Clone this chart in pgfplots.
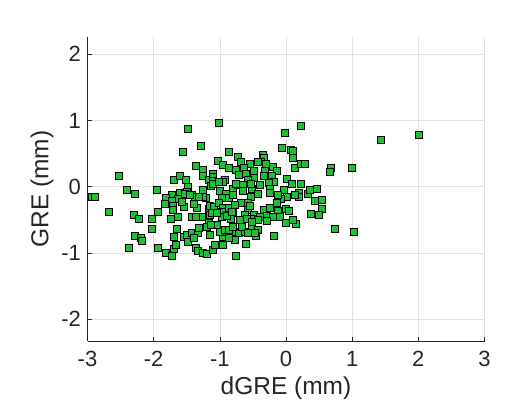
\documentclass[border=0pt]{standalone}
\usepackage{pgfplots}
\pgfplotsset{compat=1.18}
\usepackage{pgfplotstable}
\usepackage{fontspec}
\setmainfont{Liberation Sans}
\definecolor{mgreen}{RGB}{32,190,52}
\definecolor{axgray}{RGB}{38,38,38}
\definecolor{gridgray}{RGB}{225,225,225}
\pgfplotstableread{
x y
-2.94 -0.16
-2.89 -0.16
-2.67 -0.38
-2.53 0.16
-2.41 -0.05
-2.29 -0.11
-2.38 -0.92
-2.30 -0.42
-2.22 -0.49
-2.28 -0.74
-2.20 -0.77
-2.18 -0.82
-2.02 -0.49
-2.02 -0.64
-1.93 -0.38
-1.95 -0.05
-1.93 -0.92
-1.49 0.88
-1.28 0.61
-1.56 0.52
-1.02 0.97
-0.01 0.82
0.23 0.92
1.44 0.70
2.01 0.78
0.68 0.28
0.67 0.23
0.99 0.29
0.74 -0.64
1.02 -0.68
-0.86 0.53
-0.73 0.45
-0.68 0.38
-1.03 0.39
-0.96 0.33
-0.35 0.48
-0.34 0.44
-0.38 0.38
-0.30 0.34
-0.43 0.38
-0.06 0.58
0.08 0.55
0.11 0.54
0.11 0.43
0.14 0.29
0.23 0.35
0.28 0.35
-0.54 0.35
-0.63 0.29
-0.76 0.25
-0.86 0.29
-0.72 0.18
-0.60 0.19
-0.48 0.14
-0.48 0.24
-0.32 0.24
-0.20 0.30
-0.14 0.24
-0.22 0.16
-0.33 0.17
-1.37 0.31
-1.26 0.25
-1.25 0.17
-1.17 0.11
-1.11 0.20
-1.11 0.15
-1.10 0.09
-0.92 0.11
-0.95 0.08
-1.70 0.10
-1.60 0.16
-1.51 0.10
-1.48 -0.01
-1.14 0.02
-0.57 0.10
0.01 0.12
0.09 0.04
0.22 0.05
-0.19 0.07
-0.26 0.06
-0.03 -0.05
0.02 -0.15
-0.08 -0.18
-0.24 -0.04
-0.25 -0.10
0.20 -0.09
0.20 -0.15
0.33 -0.11
0.13 -0.13
0.36 -0.05
0.46 -0.03
0.43 -0.22
0.54 -0.20
0.54 -0.34
0.50 -0.42
0.37 -0.41
-1.25 -0.05
-1.21 -0.17
-1.00 -0.06
-0.91 -0.11
-0.81 -0.03
-0.73 0.03
-0.65 0.03
-0.65 -0.06
-0.52 -0.04
-0.40 0.03
-0.42 -0.11
-0.53 -0.15
-0.76 0.05
-0.53 0.04
-0.12 -0.12
-1.72 -0.12
-1.61 -0.10
-1.82 -0.17
-1.64 -0.18
-1.72 -0.21
-1.83 -0.26
-1.71 -0.29
-1.55 -0.30
-1.71 -0.35
-1.50 -0.08
-1.42 -0.13
-1.38 -0.16
-1.26 -0.16
-1.35 -0.32
-1.16 -0.34
-1.11 0.04
-1.01 0.08
-1.53 -0.11
-1.46 -0.12
-1.31 -0.15
-0.97 -0.17
-0.87 -0.17
-0.81 -0.12
-1.57 -0.23
-1.39 -0.26
-1.15 -0.29
-1.09 -0.30
-1.01 -0.24
-0.96 -0.32
-0.86 -0.32
-0.97 -0.38
-0.80 -0.40
-0.68 -0.24
-0.57 -0.25
-0.57 -0.35
-0.34 -0.35
-0.24 -0.32
-0.14 -0.25
-0.12 -0.37
0.00 -0.34
0.05 -0.36
-0.77 -0.27
-0.54 -0.29
-0.62 -0.43
-0.49 -0.43
-1.27 -0.45
-1.17 -0.55
-1.05 -0.58
-0.97 -0.45
-0.83 -0.48
-0.69 -0.50
-0.59 -0.48
-0.49 -0.49
-0.39 -0.46
-0.29 -0.44
-0.20 -0.46
-0.09 -0.45
0.00 -0.55
0.15 -0.56
0.10 -0.50
-1.74 -0.48
-1.63 -0.46
-1.42 -0.45
-1.36 -0.46
-1.15 -0.43
-1.12 -0.39
-1.04 -0.40
-0.89 -0.44
-0.82 -0.38
-0.42 -0.50
-0.29 -0.51
-0.52 -0.53
-1.65 -0.63
-1.69 -0.76
-1.55 -0.75
-1.50 -0.73
-1.42 -0.70
-1.33 -0.69
-1.31 -0.62
-1.19 -0.61
-1.13 -0.57
-1.15 -0.73
-1.48 -0.84
-1.36 -0.92
-1.33 -0.97
-1.26 -1.00
-1.20 -1.01
-1.10 -0.96
-1.07 -0.88
-0.95 -0.76
-0.90 -0.68
-0.79 -0.68
-0.71 -0.70
-0.62 -0.68
-0.52 -0.63
-0.42 -0.65
-0.45 -0.74
-0.19 -0.74
-0.95 -0.88
-0.78 -0.80
-0.61 -0.87
-0.76 -1.04
-0.67 -0.60
-0.57 -0.69
-0.47 -0.70
-1.81 -1.00
-1.73 -1.04
-1.69 -0.94
-1.67 -0.88
-1.40 -0.78
-1.00 -0.68
-0.92 -0.65
-0.86 -0.65
-0.81 -0.60
-0.87 -0.78
}\pts
\begin{document}
\begin{tikzpicture}
\useasboundingbox (0,0) rectangle (509bp,410bp);
\begin{axis}[
  at={(87.5bp,69bp)}, anchor=south west,
  scale only axis, width=397bp, height=304bp,
  xmin=-3, xmax=3, ymin=-2.33, ymax=2.26,
  xtick={-3,-2,-1,0,1,2,3}, ytick={-2,-1,0,1,2},
  axis x line*=bottom, axis y line*=left,
  axis line style={axgray, line width=0.8bp, -},
  tick style={axgray, line width=0.6bp},
  tick align=inside, major tick length=4bp,
  grid=major, major grid style={gridgray, line width=0.6bp},
  /pgf/number format/assume math mode=true,
  tick label style={font=\fontsize{22bp}{26bp}\selectfont, text=axgray},
  xticklabel style={yshift=-7bp},
  yticklabel style={xshift=-3bp},
  label style={font=\fontsize{24.5bp}{28bp}\selectfont, text=axgray},
  xlabel={dGRE (mm)}, ylabel={GRE (mm)},
  xlabel style={at={(axis description cs:0.5,-0.176)}, anchor=base},
  ylabel style={at={(axis description cs:-0.0985,0.5)}, anchor=base},
  clip=false,
]
\addplot[only marks, mark=square*, mark size=3.5bp,
  mark options={fill=mgreen, draw=black, line width=0.7bp}] table[x=x,y=y] {\pts};
\end{axis}
\end{tikzpicture}
\end{document}
